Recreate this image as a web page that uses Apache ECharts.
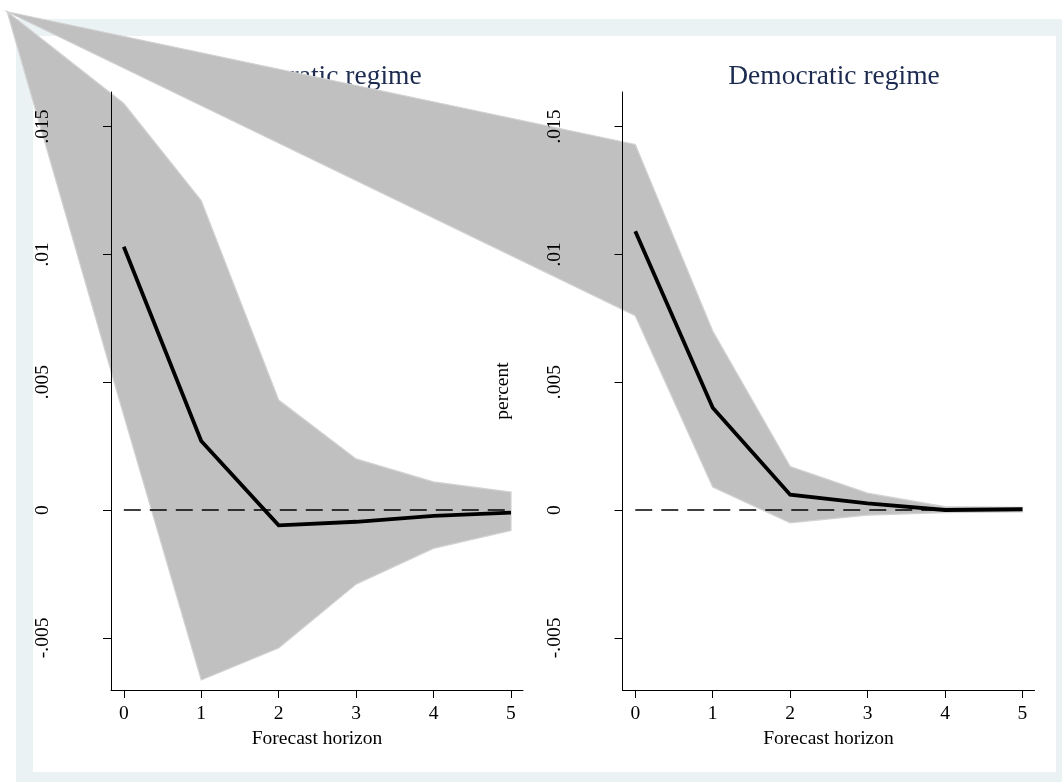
<!DOCTYPE html>
<html>
<head>
<meta charset="utf-8">
<script src="https://cdn.jsdelivr.net/npm/echarts@6/dist/echarts.min.js"></script>
<style>
  html, body { margin: 0; padding: 0; background: #ffffff; }
  #chart { width: 1062px; height: 782px; }
</style>
</head>
<body>
<div id="chart"></div>
<script>
// Impulse responses (percent) over a 0-5 forecast horizon, with confidence bands
const horizon = [0, 1, 2, 3, 4, 5];

const autocIRF   = [0.0103, 0.0027, -0.0006, -0.00046, -0.00023, -0.0001];
const autocUpper = [0.0159, 0.0121, 0.0043, 0.0020, 0.0011, 0.0007];
const autocLower = [0.0037, -0.00665, -0.0054, -0.0029, -0.0015, -0.0008];

const democIRF   = [0.0109, 0.0040, 0.0006, 0.00026, 0.0000, 0.00003];
const democUpper = [0.0143, 0.0070, 0.0017, 0.00066, 0.00013, 0.0001];
const democLower = [0.0076, 0.0009, -0.0005, -0.0002, -0.0001, -0.00007];

// first vertex of each band outline (horizon, percent)
const autocBandStart = [-1.506, 0.01949];
const democBandStart = [-8.11, 0.01949];

const panelTitles = ['Autocratic regime', 'Democratic regime'];
const xTicks = [0, 1, 2, 3, 4, 5];
const yTicks = [-0.005, 0, 0.005, 0.01, 0.015];
const zeroLine = [0, 0];

const FONT = '"Liberation Serif", "Times New Roman", serif';

function fmtY(v) {
  if (Math.abs(v) < 1e-12) return '0';
  const s = String(Math.abs(+v.toFixed(6))).replace(/^0/, '');
  return (v < 0 ? '-' : '') + s;
}

function xAxisFor(i) {
  return {
    type: 'value', gridIndex: i, min: -0.165, max: 5.155, z: 10,
    name: 'Forecast horizon', nameLocation: 'middle', nameGap: 36,
    nameTextStyle: { fontFamily: FONT, fontSize: 19.5, color: '#000' },
    axisLine: { show: true, onZero: false, lineStyle: { color: '#000', width: 1 } },
    axisTick: { show: true, inside: false, length: 8, customValues: xTicks, lineStyle: { color: '#000', width: 1 } },
    axisLabel: { customValues: xTicks, margin: 14, fontFamily: FONT, fontSize: 19.5, color: '#000' },
    splitLine: { show: false }
  };
}

function yAxisFor(i) {
  return {
    type: 'value', gridIndex: i, min: -0.00704, max: 0.01635, z: 10,
    name: 'percent', nameLocation: 'middle', nameGap: 110, nameRotate: 90,
    nameTextStyle: { fontFamily: FONT, fontSize: 19.5, color: '#000' },
    axisLine: { show: true, onZero: false, lineStyle: { color: '#000', width: 1 } },
    axisTick: { show: true, inside: false, length: 8, customValues: yTicks, lineStyle: { color: '#000', width: 1 } },
    axisLabel: { customValues: yTicks, rotate: 90, margin: 58, fontFamily: FONT, fontSize: 19.5, color: '#000', formatter: fmtY },
    splitLine: { show: false }
  };
}

function bandSeries(i, start, upper, lower) {
  return {
    type: 'custom', xAxisIndex: i, yAxisIndex: i, z: 8, silent: true,
    data: [0],
    renderItem: function (params, api) {
      const pts = [api.coord(start)];
      horizon.forEach(function (h, k) { pts.push(api.coord([h, upper[k]])); });
      for (let k = horizon.length - 1; k >= 0; k--) pts.push(api.coord([horizon[k], lower[k]]));
      return {
        type: 'polygon',
        shape: { points: pts },
        style: { fill: '#c0c0c0', stroke: '#d2d2d2', lineWidth: 1.2 }
      };
    }
  };
}

function zeroSeries(i) {
  return {
    type: 'line', xAxisIndex: i, yAxisIndex: i, z: 11, silent: true,
    data: [[horizon[0], zeroLine[0]], [horizon[horizon.length - 1], zeroLine[1]]],
    symbol: 'none',
    lineStyle: { color: '#000', width: 1.6, type: [17, 9] }
  };
}

function irfSeries(i, values) {
  return {
    type: 'line', xAxisIndex: i, yAxisIndex: i, z: 12, silent: true,
    data: horizon.map(function (h, k) { return [h, values[k]]; }),
    symbol: 'none',
    lineStyle: { color: '#000', width: 3.8, join: 'miter' }
  };
}

const chart = echarts.init(document.getElementById('chart'), null, { renderer: 'canvas' });
chart.setOption({
  animation: false,
  backgroundColor: '#ffffff',
  graphic: [
    { type: 'rect', z: -100, silent: true, shape: { x: 16, y: 19, width: 1046, height: 763 }, style: { fill: '#eaf2f3' } },
    { type: 'rect', z: -99, silent: true, shape: { x: 33, y: 36, width: 1023, height: 736 }, style: { fill: '#ffffff' } }
  ],
  title: [
    { text: panelTitles[0], left: 317, top: 58, textAlign: 'center', z: 6,
      textStyle: { fontFamily: FONT, fontSize: 27.5, fontWeight: 'normal', color: '#1c2b4f' } },
    { text: panelTitles[1], left: 829, top: 58, textAlign: 'center', z: 6,
      textStyle: { fontFamily: FONT, fontSize: 27.5, fontWeight: 'normal', color: '#1c2b4f' } }
  ],
  grid: [
    { left: 111, top: 92, width: 412, height: 598, containLabel: false, outerBoundsMode: 'none' },
    { left: 622.5, top: 92, width: 412, height: 598, containLabel: false, outerBoundsMode: 'none' }
  ],
  xAxis: [xAxisFor(0), xAxisFor(1)],
  yAxis: [yAxisFor(0), yAxisFor(1)],
  series: [
    bandSeries(0, autocBandStart, autocUpper, autocLower),
    bandSeries(1, democBandStart, democUpper, democLower),
    zeroSeries(0), zeroSeries(1),
    irfSeries(0, autocIRF), irfSeries(1, democIRF)
  ]
});
</script>
</body>
</html>
